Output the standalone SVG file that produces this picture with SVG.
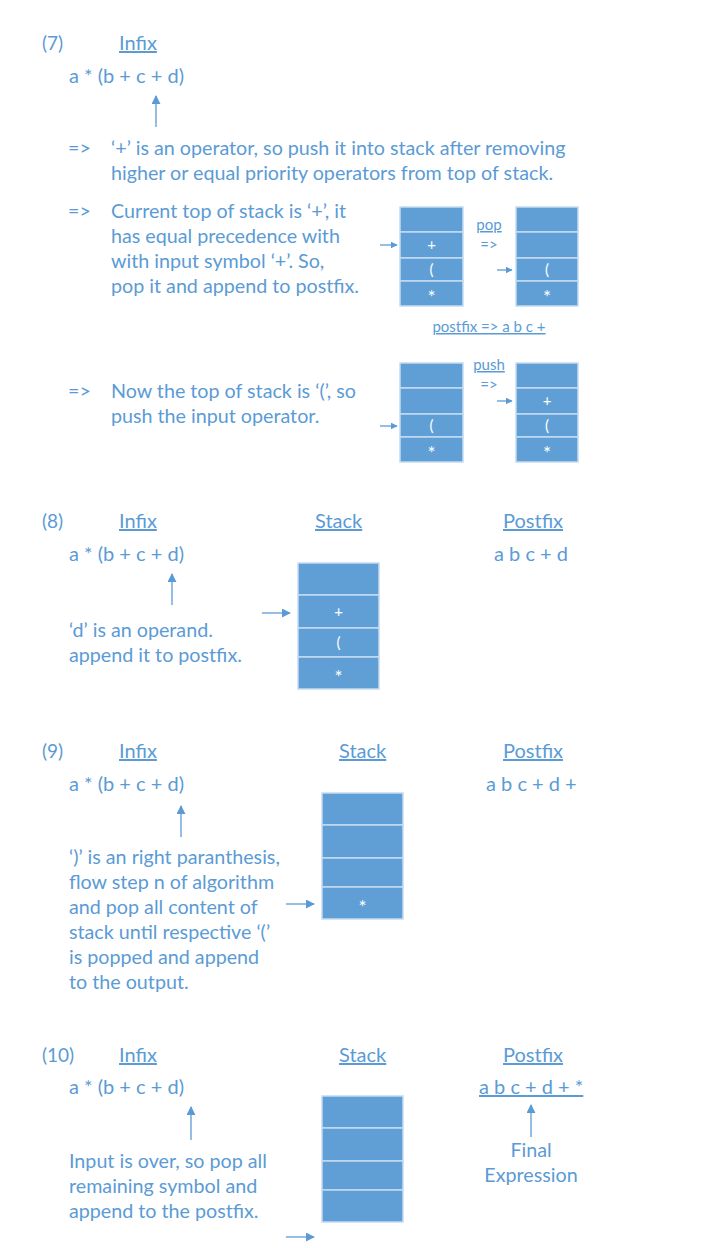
<svg xmlns="http://www.w3.org/2000/svg" width="706" height="1248" viewBox="0 0 706 1248">
<defs>
<style>
text{font-family:Lato,"Liberation Sans",sans-serif;fill:#5b9bd5;font-size:19.7px}
.h{font-size:20px;text-decoration:underline}
.n{font-size:19px}
.e{font-size:20px}
.s{font-size:15px}
.c{fill:#ffffff;font-size:15px;text-anchor:middle}
.a{fill:#ffffff;font-size:19px;text-anchor:middle}
.cell{fill:#5f9fd6;stroke:#c4dcf1;stroke-width:1.5}
.ln{stroke:#5b9bd5;stroke-width:1.3;fill:none}
</style>
<marker id="ah" viewBox="0 0 10 10" refX="9" refY="5" markerWidth="7" markerHeight="7" orient="auto" markerUnits="userSpaceOnUse">
<path d="M0,0 L10,5 L0,10 z" fill="#5b9bd5"/>
</marker>
<marker id="ah2" viewBox="0 0 10 10" refX="9" refY="5" markerWidth="9" markerHeight="9" orient="auto" markerUnits="userSpaceOnUse">
<path d="M0,0 L10,5 L0,10 z" fill="#5b9bd5"/>
</marker>
</defs>

<g id="step7">
<text x="42" y="50" class="n">(7)</text>
<text x="119" y="50" class="h">Infix</text>
<text x="69" y="83" class="e">a * (b + c + d)</text>
<text x="68" y="155">=&gt;</text>
<text x="111" y="155">‘+’ is an operator, so push it into stack after removing</text>
<text x="111" y="180">higher or equal priority operators from top of stack.</text>
<text x="68" y="218">=&gt;</text>
<text x="111" y="218">Current top of stack is ‘+’, it</text>
<text x="111" y="243">has equal precedence with</text>
<text x="111" y="268">with input symbol ‘+’. So,</text>
<text x="111" y="293">pop it and append to postfix.</text>
<text x="68" y="398">=&gt;</text>
<text x="111" y="398">Now the top of stack is ‘(’, so</text>
<text x="111" y="423">push the input operator.</text>
<text x="489" y="230" class="s" text-anchor="middle" style="text-decoration:underline">pop</text>
<text x="489" y="250" class="s" text-anchor="middle">=&gt;</text>
<text x="489" y="332" class="s" text-anchor="middle" style="text-decoration:underline">postfix =&gt; a b c +</text>
<text x="489" y="370" class="s" text-anchor="middle" style="text-decoration:underline">push</text>
<text x="489" y="390" class="s" text-anchor="middle">=&gt;</text>
</g>

<g id="stack7a">
<rect class="cell" x="400" y="207" width="63" height="25"/>
<rect class="cell" x="400" y="232" width="63" height="26"/>
<rect class="cell" x="400" y="258" width="63" height="23"/>
<rect class="cell" x="400" y="281" width="63" height="25"/>
<text class="c" x="431.5" y="250">+</text>
<text class="c" x="431.5" y="275">(</text>
<text class="a" x="431.5" y="304">*</text>
</g>
<g id="stack7b">
<rect class="cell" x="516" y="207" width="62" height="25"/>
<rect class="cell" x="516" y="232" width="62" height="26"/>
<rect class="cell" x="516" y="258" width="62" height="23"/>
<rect class="cell" x="516" y="281" width="62" height="25"/>
<text class="c" x="547" y="275">(</text>
<text class="a" x="547" y="304">*</text>
</g>
<g id="stack7c">
<rect class="cell" x="400" y="363" width="63" height="25"/>
<rect class="cell" x="400" y="388" width="63" height="26"/>
<rect class="cell" x="400" y="414" width="63" height="23"/>
<rect class="cell" x="400" y="437" width="63" height="25"/>
<text class="c" x="431.5" y="431">(</text>
<text class="a" x="431.5" y="460">*</text>
</g>
<g id="stack7d">
<rect class="cell" x="516" y="363" width="62" height="25"/>
<rect class="cell" x="516" y="388" width="62" height="26"/>
<rect class="cell" x="516" y="414" width="62" height="23"/>
<rect class="cell" x="516" y="437" width="62" height="25"/>
<text class="c" x="547" y="406">+</text>
<text class="c" x="547" y="431">(</text>
<text class="a" x="547" y="460">*</text>
</g>

<g id="step8">
<text x="42" y="528" class="n">(8)</text>
<text x="119" y="528" class="h">Infix</text>
<text x="315" y="528" class="h">Stack</text>
<text x="503" y="528" class="h">Postfix</text>
<text x="69" y="561" class="e">a * (b + c + d)</text>
<text x="494" y="561" class="e">a b c + d</text>
<text x="69" y="637">‘d’ is an operand.</text>
<text x="69" y="662">append it to postfix.</text>
</g>
<g id="stack8">
<rect class="cell" x="298" y="563" width="81" height="32"/>
<rect class="cell" x="298" y="595" width="81" height="33"/>
<rect class="cell" x="298" y="628" width="81" height="29"/>
<rect class="cell" x="298" y="657" width="81" height="32"/>
<text class="c" x="338.5" y="617">+</text>
<text class="c" x="338.5" y="648">(</text>
<text class="a" x="338.5" y="684">*</text>
</g>

<g id="step9">
<text x="42" y="758" class="n">(9)</text>
<text x="119" y="758" class="h">Infix</text>
<text x="339" y="758" class="h">Stack</text>
<text x="503" y="758" class="h">Postfix</text>
<text x="69" y="791" class="e">a * (b + c + d)</text>
<text x="486" y="791" class="e">a b c + d +</text>
<text x="69" y="864">‘)’ is an right paranthesis,</text>
<text x="69" y="889">flow step n of algorithm</text>
<text x="69" y="914">and pop all content of</text>
<text x="69" y="939">stack until respective ‘(’</text>
<text x="69" y="964">is popped and append</text>
<text x="69" y="989">to the output.</text>
</g>
<g id="stack9">
<rect class="cell" x="322" y="793" width="81" height="32"/>
<rect class="cell" x="322" y="825" width="81" height="33"/>
<rect class="cell" x="322" y="858" width="81" height="29"/>
<rect class="cell" x="322" y="887" width="81" height="32"/>
<text class="a" x="362.5" y="914">*</text>
</g>

<g id="step10">
<text x="42" y="1062" class="n">(10)</text>
<text x="119" y="1062" class="h">Infix</text>
<text x="339" y="1062" class="h">Stack</text>
<text x="503" y="1062" class="h">Postfix</text>
<text x="69" y="1094" class="e">a * (b + c + d)</text>
<text x="479" y="1094" class="e" style="text-decoration:underline">a b c + d + *</text>
<text x="531" y="1157" text-anchor="middle">Final</text>
<text x="531" y="1182" text-anchor="middle">Expression</text>
<text x="69" y="1168">Input is over, so pop all</text>
<text x="69" y="1193">remaining symbol and</text>
<text x="69" y="1218">append to the postfix.</text>
</g>
<g id="stack10">
<rect class="cell" x="322" y="1096" width="81" height="32"/>
<rect class="cell" x="322" y="1128" width="81" height="33"/>
<rect class="cell" x="322" y="1161" width="81" height="29"/>
<rect class="cell" x="322" y="1190" width="81" height="32"/>
</g>

<g id="connectors">
<line class="ln" x1="156" y1="127" x2="156" y2="96" marker-end="url(#ah2)"/>
<line class="ln" x1="380" y1="245" x2="397" y2="245" marker-end="url(#ah)"/>
<line class="ln" x1="497" y1="270" x2="512" y2="270" marker-end="url(#ah)"/>
<line class="ln" x1="380" y1="426" x2="397" y2="426" marker-end="url(#ah)"/>
<line class="ln" x1="497" y1="401" x2="512" y2="401" marker-end="url(#ah)"/>
<line class="ln" x1="172" y1="605" x2="172" y2="574" marker-end="url(#ah2)"/>
<line class="ln" x1="262" y1="613" x2="290" y2="613" marker-end="url(#ah2)"/>
<line class="ln" x1="181" y1="837" x2="181" y2="806" marker-end="url(#ah2)"/>
<line class="ln" x1="286" y1="904" x2="314" y2="904" marker-end="url(#ah2)"/>
<line class="ln" x1="191" y1="1140" x2="191" y2="1107" marker-end="url(#ah2)"/>
<line class="ln" x1="531" y1="1137" x2="531" y2="1105" marker-end="url(#ah2)"/>
<line class="ln" x1="286" y1="1237" x2="314" y2="1237" marker-end="url(#ah2)"/>
</g>
</svg>
